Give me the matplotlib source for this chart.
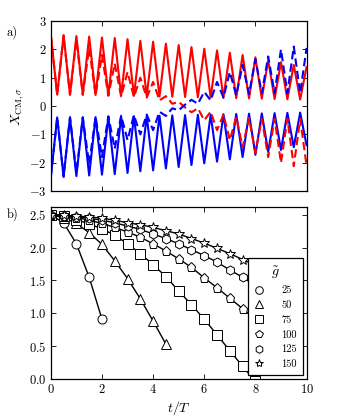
import numpy as np
import matplotlib
matplotlib.use("Agg")
import matplotlib.pyplot as plt
from matplotlib.lines import Line2D

plt.rcParams["font.family"] = "serif"
plt.rcParams["font.serif"] = ["cmr10"]
plt.rcParams["mathtext.fontset"] = "cm"
plt.rcParams["axes.formatter.use_mathtext"] = True
plt.rcParams["axes.unicode_minus"] = True

# ---- panel a): values at the half-period points t = 0, 0.5, ..., 10
t_half = [0.0, 0.5, 1.0, 1.5, 2.0, 2.5, 3.0, 3.5, 4.0, 4.5, 5.0,
          5.5, 6.0, 6.5, 7.0, 7.5, 8.0, 8.5, 9.0, 9.5, 10.0]
# values at the quarter points t = 0.25, 0.75, ..., 9.75
t_quarter = [0.25, 0.75, 1.25, 1.75, 2.25, 2.75, 3.25, 3.75, 4.25, 4.75,
             5.25, 5.75, 6.25, 6.75, 7.25, 7.75, 8.25, 8.75, 9.25, 9.75]

red_solid_half = [2.50, 2.50, 2.47, 2.45, 2.42, 2.40, 2.36, 2.30, 2.27, 2.20, 2.15,
                  2.08, 2.02, 1.96, 1.88, 1.80, 1.72, 1.62, 1.55, 1.45, 1.38]
red_solid_quarter = [0.40, 0.40, 0.40, 0.39, 0.38, 0.37, 0.36, 0.35, 0.34, 0.33,
                     0.32, 0.31, 0.30, 0.29, 0.28, 0.27, 0.26, 0.25, 0.24, 0.23]
blue_solid_half = [-2.50, -2.50, -2.47, -2.45, -2.42, -2.40, -2.36, -2.30, -2.27, -2.20, -2.15,
                   -2.08, -2.02, -1.96, -1.88, -1.80, -1.72, -1.62, -1.55, -1.45, -1.38]
blue_solid_quarter = [-0.40, -0.40, -0.40, -0.39, -0.38, -0.37, -0.36, -0.35, -0.34, -0.33,
                      -0.32, -0.31, -0.30, -0.29, -0.28, -0.27, -0.26, -0.25, -0.24, -0.23]

red_dash_half = [2.50, 2.48, 2.35, 2.05, 1.80, 1.50, 1.20, 1.00, 0.85, 0.35, 0.15,
                 -0.22, -0.50, -0.85, -1.20, -1.45, -1.65, -1.80, -2.00, -2.12, -2.10]
red_dash_quarter = [0.40, 0.40, 0.40, 0.38, 0.36, 0.34, 0.32, 0.30, 0.20, 0.08,
                    -0.05, -0.08, -0.20, -0.30, -0.38, -0.42, -0.45, -0.45, -0.45, -0.45]
blue_dash_half = [-2.50, -2.48, -2.35, -2.05, -1.80, -1.50, -1.20, -1.00, -0.85, -0.35, -0.15,
                  0.22, 0.50, 0.85, 1.20, 1.45, 1.65, 1.75, 2.00, 2.10, 2.05]
blue_dash_quarter = [-0.40, -0.40, -0.40, -0.38, -0.36, -0.34, -0.32, -0.30, -0.20, -0.08,
                     0.05, 0.08, 0.20, 0.30, 0.38, 0.42, 0.45, 0.45, 0.45, 0.45]

# ---- panel b)
t_b = [0.0, 0.5, 1.0, 1.5, 2.0, 2.5, 3.0, 3.5, 4.0, 4.5, 5.0,
       5.5, 6.0, 6.5, 7.0, 7.5, 8.0]
g_labels = ["25", "50", "75", "100", "125", "150"]
g_markers = ["o", "^", "s", "p", "h", "*"]
x_g25 = [2.50, 2.38, 2.06, 1.55, 0.91]
x_g50 = [2.50, 2.46, 2.37, 2.23, 2.05, 1.80, 1.53, 1.22, 0.88, 0.53]
x_g75 = [2.50, 2.48, 2.43, 2.36, 2.29, 2.19, 2.06, 1.91, 1.74, 1.56, 1.34,
         1.13, 0.91, 0.67, 0.43, 0.19, -0.04]
x_g100 = [2.50, 2.49, 2.46, 2.42, 2.37, 2.31, 2.24, 2.16, 2.06, 1.95, 1.83,
          1.70, 1.54, 1.39, 1.23, 1.07, 0.90]
x_g125 = [2.50, 2.49, 2.47, 2.45, 2.42, 2.38, 2.33, 2.28, 2.21, 2.14, 2.06,
          1.97, 1.88, 1.78, 1.66, 1.55, 1.42]
x_g150 = [2.50, 2.50, 2.48, 2.47, 2.45, 2.42, 2.38, 2.35, 2.31, 2.26, 2.21,
          2.14, 2.07, 1.99, 1.91, 1.82, 1.73]
g_series = [x_g25, x_g50, x_g75, x_g100, x_g125, x_g150]


def interleave(half, quarter):
    t = np.empty(len(half) + len(quarter))
    y = np.empty_like(t)
    t[0::2], t[1::2] = t_half, t_quarter
    y[0::2], y[1::2] = half, quarter
    return t, y


def style(ax):
    ax.tick_params(direction="in", top=True, right=True, length=3.5,
                   width=0.6, labelsize=9, pad=3)
    for s in ax.spines.values():
        s.set_linewidth(0.9)


fig = plt.figure(figsize=(3.41, 4.20), dpi=100)
ax1 = fig.add_axes([0.149, 0.545, 0.750, 0.405])
ax2 = fig.add_axes([0.149, 0.098, 0.750, 0.409])

lw = 1.5
for half, quarter, col in [(red_solid_half, red_solid_quarter, "#ff0000"),
                           (blue_solid_half, blue_solid_quarter, "#0000ff")]:
    t, y = interleave(half, quarter)
    ax1.plot(t, y, color=col, lw=lw, solid_joinstyle="round")
for half, quarter, col in [(red_dash_half, red_dash_quarter, "#ff0000"),
                           (blue_dash_half, blue_dash_quarter, "#0000ff")]:
    t, y = interleave(half, quarter)
    ax1.plot(t, y, color=col, lw=lw, ls=(0, (4, 2)), dash_joinstyle="round")

ax1.set_xlim(0, 10)
ax1.set_ylim(-3, 3)
ax1.set_xticks([0, 2, 4, 6, 8, 10])
ax1.set_xticklabels([])
ax1.set_yticks([-3, -2, -1, 0, 1, 2, 3])
ax1.set_ylabel(r"$X_{\mathrm{CM},\sigma}$", fontsize=10, labelpad=2)
style(ax1)

for vals, m in zip(g_series, g_markers):
    ms = 7.5 if m == "*" else 6.5
    ax2.plot(t_b[:len(vals)], vals, color="k", lw=1.0, marker=m, ms=ms,
             mfc="w", mec="k", mew=0.7)
ax2.set_xlim(0, 10)
ax2.set_ylim(0, 2.62)
ax2.set_xticks([0, 2, 4, 6, 8, 10])
ax2.set_yticks([0.0, 0.5, 1.0, 1.5, 2.0, 2.5])
ax2.yaxis.set_major_formatter(matplotlib.ticker.FormatStrFormatter("$%.1f$"))
ax2.set_xlabel(r"$t/T$", fontsize=10, labelpad=2)
style(ax2)

handles = [Line2D([], [], ls="none", marker=m, ms=(6 if m == "*" else 5.5),
                  mfc="w", mec="k", mew=0.7) for m in g_markers]
leg = ax2.legend(handles, g_labels, loc="lower right", title=r"$\tilde{g}$",
                 fontsize=7.5, title_fontsize=10, frameon=True, fancybox=False,
                 framealpha=1, edgecolor="k", borderaxespad=0.35,
                 handlelength=1.0, handletextpad=1.6, labelspacing=0.5,
                 borderpad=0.6)
leg.get_frame().set_linewidth(0.9)
leg.set_zorder(5)

fig.text(0.02, 0.924, "a)", fontsize=9, va="center")
fig.text(0.02, 0.489, "b)", fontsize=9, va="center")

fig.savefig("out.png", dpi=100)
